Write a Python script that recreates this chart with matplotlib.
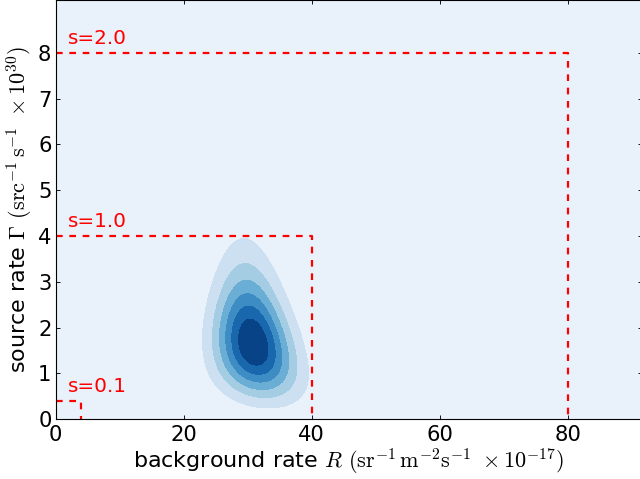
import numpy as np
import matplotlib
matplotlib.use("Agg")
import matplotlib.pyplot as plt

plt.rcParams["mathtext.fontset"] = "cm"
plt.rcParams["font.family"] = ["DejaVu Sans"]
plt.rcParams["lines.scale_dashes"] = False

# Prior boxes: scale factor s and the upper bounds of R and Gamma
box_scale = [0.1, 1.0, 2.0]
box_R_max = [4.0, 40.0, 80.0]
box_G_max = [0.4, 4.0, 8.0]
box_labels = ["s=0.1", "s=1.0", "s=2.0"]

# Posterior shape parameters (R in 1e-17 units, Gamma in 1e30 units)
post_R_mode = 30.85
post_G_mode = 1.65
post_G_shift = 1.95      # Gamma + shift is log-normal
post_G_logwidth = 0.25
post_R_width = 4.0
post_R_width_slope = -0.4  # relative change of the R width with log(Gamma + shift)
post_R_tilt = [-3.9, 2.0]  # linear and quadratic drift of R with log(Gamma + shift)

x_ticks = [0, 20, 40, 60, 80]
y_ticks = [0, 1, 2, 3, 4, 5, 6, 7, 8]
x_lim = (0, 91.5)
y_lim = (0, 9.15)
n_bands = 7

R = np.linspace(x_lim[0], x_lim[1], 700)
G = np.linspace(y_lim[0], y_lim[1], 700)
RR, GG = np.meshgrid(R, G)
yy = np.log((GG + post_G_shift) / (post_G_mode + post_G_shift))
R_center = post_R_mode + post_R_tilt[0] * yy + post_R_tilt[1] * yy ** 2
R_width = post_R_width * (1 + post_R_width_slope * yy)
Z = np.exp(-0.5 * (yy / post_G_logwidth) ** 2
           - 0.5 * ((RR - R_center) / R_width) ** 2)
Z /= Z.max()

fig = plt.figure(figsize=(8, 5.9875), dpi=80)
ax = fig.add_axes([55.5 / 640, (479 - 419.3) / 479, 586 / 640, 419.3 / 479])
levels = np.linspace(0, 1, n_bands + 1)
cs = ax.contourf(RR, GG, Z, levels=levels, cmap="Blues")
ax.set_facecolor(cs.cmap(cs.norm(cs.layers[0])))

for s, rmax, gmax, lab in zip(box_scale, box_R_max, box_G_max, box_labels):
    ax.plot([0, rmax, rmax], [gmax, gmax, 0], color="red", lw=2,
            dashes=(6, 6))
    ax.text(2, gmax + 0.2, lab, color="red", fontsize=18, va="baseline")

ax.set_xlim(*x_lim)
ax.set_ylim(*y_lim)
ax.set_xticks(x_ticks)
ax.set_yticks(y_ticks)
ax.tick_params(direction="in", top=True, right=True, length=4,
               labelsize=19)
ax.tick_params(axis="x", pad=5.5)
ax.tick_params(axis="y", pad=3.5)
for sp in ax.spines.values():
    sp.set_linewidth(1.0)

ax.set_xlabel(r"background rate $R$ $(\mathrm{sr}^{-1}\,\mathrm{m}^{-2}\mathrm{s}^{-1}\ \times10^{-17})$",
              fontsize=20, labelpad=1)
ax.set_ylabel(r"source rate $\Gamma$ $(\mathrm{src}^{-1}\,\mathrm{s}^{-1}\ \times10^{30})$",
              fontsize=20, labelpad=3)

fig.savefig("out.png", dpi=80)
